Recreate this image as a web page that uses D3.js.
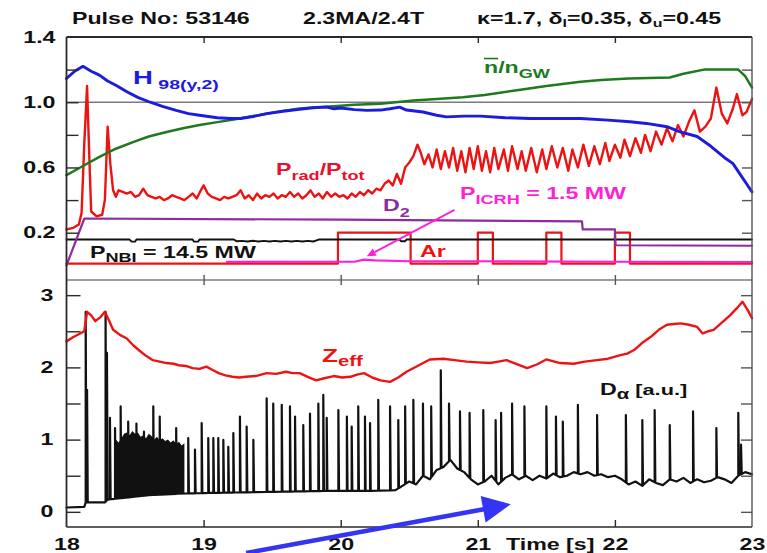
<!DOCTYPE html>
<html><head><meta charset="utf-8">
<script src="https://cdn.jsdelivr.net/npm/d3@7"></script>
<style>
html,body{margin:0;padding:0;background:#fff;}
svg{display:block;font-family:"Liberation Sans",Arial,Helvetica,sans-serif;font-weight:bold;}
</style></head><body>
<svg id="chart" width="767" height="553"></svg>
<script>
// ---------- axis ticks ----------
const timeTicks = [18, 19, 20, 21, 22, 23];
const timeInnerTicks = [19, 20, 21, 22];
const topLabelTicks = [0.2, 0.6, 1.0, 1.4];
const topMinorTicks = [0.2, 0.4, 0.6, 0.8, 1.0, 1.2];
const botLabelTicks = [0, 1, 2, 3];
const botMinorTicks = [0, 0.5, 1, 1.5, 2, 2.5, 3];

// ---------- upper panel signals ----------
const h98T = [18.0,18.06,18.12,18.18,18.24,18.3,18.37,18.44,18.52,18.61,18.7,18.8,18.89,18.97,19.1,19.2,19.27,19.36,19.46,19.58,19.7,19.8,19.9,19.95,20.0,20.1,20.19,20.29,20.36,20.43,20.48,20.6,20.7,20.77,20.9,21.02,21.2,21.38,21.55,21.75,21.95,22.11,22.23,22.38,22.47,22.6,22.7,22.8,22.86,22.92,22.96,23.0];
const h98V = [1.146,1.19,1.22,1.19,1.166,1.13,1.1,1.064,1.03,1.0,0.975,0.95,0.93,0.92,0.905,0.9,0.9,0.912,0.93,0.945,0.956,0.966,0.97,0.96,0.965,0.955,0.95,0.952,0.96,0.97,0.952,0.94,0.92,0.91,0.915,0.915,0.905,0.9,0.9,0.9,0.89,0.88,0.87,0.85,0.82,0.79,0.73,0.66,0.625,0.55,0.5,0.45];

const nGwT = [18.0,18.1,18.24,18.36,18.49,18.6,18.73,18.85,18.97,19.1,19.22,19.34,19.46,19.58,19.7,19.82,19.95,20.1,20.29,20.53,20.7,20.89,21.05,21.26,21.5,21.75,21.9,22.1,22.4,22.5,22.65,22.9,22.95,23.0];
const nGwV = [0.553,0.6,0.665,0.715,0.757,0.79,0.818,0.84,0.86,0.878,0.894,0.912,0.93,0.947,0.962,0.97,0.976,0.984,0.99,1.01,1.02,1.03,1.045,1.07,1.1,1.125,1.136,1.146,1.152,1.175,1.2,1.2,1.16,1.09];

const pradT = [18.0,18.05,18.09,18.11,18.13,18.15,18.165,18.18,18.22,18.26,18.28,18.3,18.32,18.34,18.36,18.38,18.41,18.44,18.47,18.5,18.53,18.56,18.59,18.62,18.65,18.68,18.71,18.74,18.77,18.8,18.83,18.86,18.89,18.92,18.95,18.98,19.0,19.03,19.06,19.09,19.12,19.15,19.18,19.21,19.24,19.27,19.3,19.33,19.36,19.39,19.42,19.45,19.48,19.51,19.54,19.57,19.6,19.63,19.66,19.69,19.72,19.75,19.78,19.81,19.84,19.87,19.9,19.93,19.96,19.99,20.02,20.05,20.08,20.11,20.14,20.17,20.2,20.23,20.26,20.29,20.32,20.35,20.38,20.41,20.44,20.47,20.5,20.53,20.56,20.58,20.61,20.64,20.67,20.7,20.73,20.76,20.79,20.82,20.85,20.88,20.91,20.94,20.97,21.0,21.03,21.06,21.09,21.12,21.15,21.19,21.22,21.25,21.29,21.32,21.35,21.39,21.43,21.47,21.5,21.54,21.58,21.62,21.66,21.69,21.73,21.77,21.81,21.85,21.89,21.93,21.96,22.0,22.04,22.07,22.11,22.15,22.19,22.22,22.26,22.3,22.34,22.38,22.42,22.46,22.5,22.54,22.58,22.62,22.66,22.7,22.74,22.78,22.82,22.86,22.89,22.93,22.96,23.0];
const pradV = [0.22,0.23,0.25,0.32,0.75,1.1,0.7,0.33,0.3,0.31,0.4,0.85,0.62,0.46,0.42,0.46,0.45,0.44,0.45,0.42,0.43,0.47,0.43,0.42,0.41,0.42,0.4,0.41,0.43,0.42,0.41,0.4,0.42,0.44,0.41,0.46,0.49,0.44,0.42,0.41,0.4,0.42,0.41,0.42,0.43,0.46,0.41,0.43,0.4,0.44,0.41,0.43,0.42,0.44,0.41,0.43,0.42,0.45,0.42,0.44,0.41,0.43,0.46,0.42,0.44,0.41,0.45,0.42,0.44,0.42,0.43,0.41,0.44,0.42,0.45,0.43,0.46,0.44,0.47,0.46,0.5,0.52,0.49,0.56,0.5,0.6,0.63,0.67,0.74,0.7,0.62,0.68,0.6,0.71,0.59,0.7,0.6,0.72,0.58,0.7,0.57,0.72,0.59,0.73,0.58,0.7,0.57,0.72,0.59,0.71,0.58,0.73,0.59,0.7,0.58,0.72,0.57,0.71,0.59,0.73,0.6,0.72,0.58,0.71,0.6,0.74,0.61,0.73,0.62,0.75,0.64,0.74,0.66,0.77,0.67,0.78,0.69,0.8,0.7,0.82,0.74,0.84,0.76,0.86,0.79,0.88,0.95,0.82,0.85,0.9,1.09,0.93,0.87,0.96,1.05,0.92,0.94,1.02];

// neutral beam power (normalised trace)
const nbiT = [18.0,18.46,18.475,18.5,18.51,18.92,18.93,18.96,18.97,19.22,19.24,19.28,19.32,19.36,19.4,19.44,19.48,19.52,19.56,19.6,19.64,19.68,19.72,19.76,19.8,19.84,20.43,20.44,20.47,20.48,23.0];
const nbiV = [0.158,0.158,0.145,0.145,0.158,0.158,0.145,0.145,0.158,0.158,0.148,0.15,0.146,0.151,0.146,0.15,0.146,0.15,0.146,0.15,0.146,0.15,0.146,0.15,0.146,0.158,0.158,0.148,0.148,0.158,0.158];

// deuterium fuelling
const d2T = [18.0,18.13,20.0,21.76,21.765,22.0,22.005,23.0];
const d2V = [0.0,0.287,0.28,0.27,0.22,0.22,0.123,0.12];

// ICRH power
const icrhT = [19.17,19.5,20.1,20.17,20.25,20.5,21.0,22.0,23.0];
const icrhV = [0.021,0.021,0.022,0.035,0.03,0.025,0.025,0.022,0.02];

// argon puffs
const arBase = 0.011;
const arLevel = 0.2;
const arStart = [19.98, 21.0, 21.5, 22.0];
const arEnd = [20.51, 21.11, 21.61, 22.11];

// ---------- lower panel signals ----------
const zeffT = [18.0,18.05,18.1,18.13,18.15,18.18,18.21,18.25,18.28,18.31,18.34,18.39,18.44,18.49,18.54,18.58,18.63,18.68,18.73,18.78,18.82,18.87,18.92,18.97,19.02,19.07,19.11,19.16,19.21,19.26,19.31,19.38,19.46,19.53,19.6,19.65,19.7,19.76,19.82,19.88,19.95,20.01,20.07,20.12,20.17,20.23,20.29,20.36,20.42,20.48,20.56,20.65,20.75,20.83,20.92,21.0,21.09,21.15,21.21,21.28,21.36,21.43,21.5,21.6,21.7,21.78,21.87,21.95,22.04,22.09,22.14,22.2,22.26,22.32,22.38,22.43,22.48,22.54,22.6,22.64,22.68,22.72,22.78,22.84,22.89,22.93,22.97,23.0];
const zeffV = [2.36,2.42,2.47,2.5,2.77,2.72,2.64,2.7,2.77,2.65,2.52,2.45,2.4,2.3,2.22,2.16,2.1,2.08,2.06,2.05,2.03,2.02,1.99,1.98,2.01,1.96,1.92,1.89,1.87,1.86,1.87,1.88,1.92,1.91,1.94,1.92,1.92,1.87,1.82,1.85,1.88,1.86,1.87,1.9,1.92,1.86,1.82,1.8,1.86,1.94,2.02,2.11,2.12,2.1,2.08,2.07,2.06,2.08,2.1,2.05,1.99,2.04,2.11,2.06,2.05,2.08,2.1,2.12,2.17,2.19,2.24,2.34,2.42,2.52,2.59,2.6,2.61,2.59,2.56,2.47,2.5,2.52,2.62,2.72,2.82,2.91,2.79,2.68];

// D-alpha background level between ELMs
const daBaseT = [18.0,18.13,18.14,18.28,18.3,18.35,18.45,18.6,18.8,19.0,19.3,19.6,19.9,20.2,20.4,20.45,20.5,20.55,20.6,20.65,20.7,20.75,20.8,20.85,20.9,20.95,21.0,21.05,21.1,21.15,21.2,21.25,21.3,21.35,21.4,21.45,21.5,21.55,21.6,21.65,21.7,21.75,21.8,21.85,21.9,21.95,22.0,22.05,22.1,22.15,22.2,22.25,22.3,22.35,22.4,22.45,22.5,22.55,22.6,22.65,22.7,22.75,22.8,22.85,22.9,22.95,23.0];
const daBaseV = [0.06,0.07,0.13,0.13,0.17,0.18,0.2,0.23,0.25,0.26,0.27,0.28,0.29,0.29,0.3,0.36,0.42,0.38,0.5,0.45,0.58,0.62,0.72,0.6,0.55,0.45,0.38,0.42,0.5,0.38,0.47,0.52,0.45,0.5,0.44,0.5,0.46,0.53,0.48,0.5,0.55,0.52,0.55,0.5,0.52,0.48,0.5,0.45,0.38,0.42,0.36,0.45,0.4,0.37,0.45,0.42,0.47,0.4,0.45,0.41,0.43,0.48,0.45,0.4,0.5,0.55,0.52];

// rapid ELM burst: upper envelope
const daBurstT = [18.36,18.38,18.4,18.42,18.44,18.46,18.48,18.5,18.52,18.54,18.56,18.58,18.6,18.62,18.64,18.66,18.68,18.7,18.72,18.74,18.76,18.78,18.8,18.82,18.84,18.86];
const daBurstV = [1.0,0.96,1.02,1.08,1.1,1.06,1.12,1.08,1.1,1.04,1.06,1.02,1.08,1.05,1.0,1.04,0.99,1.02,0.98,1.0,0.96,0.99,0.94,0.97,0.92,0.95];

// individual ELM peaks
const elmT = [18.14,18.15,18.285,18.295,18.317,18.354,18.395,18.45,18.51,18.565,18.633,18.68,18.8,18.888,18.937,18.986,19.034,19.071,19.107,19.144,19.18,19.217,19.265,19.314,19.363,19.46,19.508,19.57,19.63,19.667,19.727,19.776,19.837,19.873,19.898,19.983,20.045,20.08,20.128,20.177,20.214,20.274,20.36,20.42,20.47,20.53,20.6,20.66,20.73,20.79,20.87,20.94,21.04,21.13,21.17,21.25,21.34,21.5,21.57,21.62,21.73,21.87,22.08,22.2,22.29,22.4,22.57,22.74,22.9,22.92];
const elmV = [2.77,1.69,2.77,2.2,1.3,1.16,1.46,1.25,1.22,1.11,1.46,1.32,1.16,1.02,0.86,1.23,1.02,1.02,1.02,0.995,0.9,1.09,1.32,1.18,0.995,1.57,1.5,1.48,1.46,1.32,1.2,1.36,1.5,1.62,1.3,1.41,1.32,1.18,1.46,1.32,1.23,1.55,1.46,1.27,1.46,1.55,1.5,1.46,1.96,1.5,1.39,1.37,1.41,1.27,1.37,1.5,1.46,1.46,1.32,1.25,1.48,1.34,1.34,1.27,1.41,1.2,1.39,1.16,1.37,0.93];

// annotation arrows (data coordinates)
const icrhArrow = {from: [20.83, 0.34], to: [20.19, 0.055]};
const bigArrow = {from: [19.31, -0.57], to: [21.24, 0.105]};

// ---------- colours ----------
const C = {
  blue: "#1c1ce0", green: "#1d7a1d", red: "#ec1313", magenta: "#ff1fd6",
  purple: "#8d2c9f", black: "#111", frame: "#2a2a2a", grid: "#7a7a7a",
  arrow: "#3434f2", labelRed: "#e8102e"
};
const SX = 1.45; // horizontal text stretch

// ---------- layout ----------
const svg = d3.select("#chart");
const L = 66.5, R = 752;
const topY0 = 37, midY = 280, botY1 = 527;

const x = d3.scaleLinear().domain([18, 23]).range([L, R]);
const yTop = d3.scaleLinear().domain([-0.09, 1.4]).range([midY, topY0]);
const yBot = d3.scaleLinear().domain([-0.21, 3.21]).range([botY1, midY]);

const zip = (a, b) => a.map((t, i) => [t, b[i]]);
const lineTop = d3.line().x(d => x(d[0])).y(d => yTop(d[1]));
const lineBot = d3.line().x(d => x(d[0])).y(d => yBot(d[1]));

function drawLine(gen, data, color, w) {
  svg.append("path").attr("d", gen(data)).attr("fill", "none")
    .attr("stroke", color).attr("stroke-width", w)
    .attr("stroke-linejoin", "round").attr("stroke-linecap", "round");
}

// ---------- upper panel ----------
// reference level 1.0
svg.append("line").attr("x1", L).attr("x2", R)
  .attr("y1", yTop(1.0)).attr("y2", yTop(1.0))
  .attr("stroke", C.grid).attr("stroke-width", 1.3);

// argon puff steps
const arPts = [[18, arBase]];
arStart.forEach((s, i) => {
  arPts.push([s, arBase], [s, arLevel], [arEnd[i], arLevel], [arEnd[i], arBase]);
});
arPts.push([23, arBase]);
drawLine(lineTop, arPts, C.red, 2.2);

drawLine(lineTop, zip(icrhT, icrhV), C.magenta, 2.2);
drawLine(lineTop, zip(nbiT, nbiV), C.black, 1.9);
drawLine(lineTop, zip(d2T, d2V), C.purple, 2.2);
drawLine(lineTop, zip(pradT, pradV), C.red, 2.4);
drawLine(lineTop, zip(nGwT, nGwV), C.green, 2.5);
drawLine(lineTop, zip(h98T, h98V), C.blue, 2.9);

// ICRH pointer
{
  const x1 = x(icrhArrow.from[0]), y1 = yTop(icrhArrow.from[1]);
  const x2 = x(icrhArrow.to[0]), y2 = yTop(icrhArrow.to[1]);
  const a = Math.atan2(y2 - y1, x2 - x1), hl = 9, hw = 4;
  const bx = x2 - hl * Math.cos(a), by = y2 - hl * Math.sin(a);
  svg.append("line").attr("x1", x1).attr("y1", y1).attr("x2", bx).attr("y2", by)
    .attr("stroke", C.magenta).attr("stroke-width", 1.8);
  svg.append("polygon").attr("fill", C.magenta).attr("points", [
    [x2, y2], [bx + hw * Math.sin(a), by - hw * Math.cos(a)], [bx - hw * Math.sin(a), by + hw * Math.cos(a)]
  ].map(p => p.join(",")).join(" "));
}

// ---------- lower panel ----------
const daBase = d3.scaleLinear().domain(daBaseT).range(daBaseV);
// burst region filled between background and envelope
svg.append("path")
  .attr("d", d3.area().x(d => x(d[0])).y0(d => yBot(daBase(d[0]))).y1(d => yBot(d[1]))(zip(daBurstT, daBurstV)))
  .attr("fill", C.black);

// D-alpha trace: background with ELM spikes
const daPts = [];
const allT = Array.from(new Set(daBaseT.concat(elmT))).sort((a, b) => a - b);
allT.forEach(t => {
  const k = elmT.indexOf(t);
  if (k >= 0) {
    daPts.push([t, daBase(t)], [t, elmV[k]], [t + 0.005, daBase(t + 0.005)]);
  } else {
    daPts.push([t, daBase(t)]);
  }
});
drawLine(lineBot, daPts, C.black, 2.2);

drawLine(lineBot, zip(zeffT, zeffV), C.red, 2.4);

// ---------- frames ----------
svg.append("line").attr("x1", L).attr("x2", R).attr("y1", topY0).attr("y2", topY0).attr("stroke", C.frame).attr("stroke-width", 1.8);
svg.append("line").attr("x1", L).attr("x2", R).attr("y1", midY).attr("y2", midY).attr("stroke", "#857a74").attr("stroke-width", 1.6);
svg.append("line").attr("x1", L).attr("x2", R).attr("y1", botY1).attr("y2", botY1).attr("stroke", C.frame).attr("stroke-width", 1.6);
svg.append("line").attr("x1", L).attr("x2", L).attr("y1", topY0).attr("y2", botY1).attr("stroke", C.frame).attr("stroke-width", 1.8);
svg.append("line").attr("x1", R).attr("x2", R).attr("y1", topY0).attr("y2", botY1).attr("stroke", "#555").attr("stroke-width", 1.4);

// ---------- axes ----------
function styleAxis(g, color) {
  g.select(".domain").remove();
  g.selectAll(".tick line").attr("stroke", color || C.frame).attr("stroke-width", 1.4);
}
function stretchLabels(g) {
  g.selectAll(".tick text").each(function () {
    const t = d3.select(this);
    const xx = +t.attr("x") || 0;
    t.attr("x", xx / SX).attr("transform", `scale(${SX},1)`);
  });
  g.selectAll(".tick text").attr("fill", "#111").attr("font-size", 16).attr("font-weight", "bold")
    .attr("font-family", '"Liberation Sans",Arial,sans-serif');
}

// upper panel y ticks
svg.append("g").attr("transform", `translate(${L},0)`)
  .call(d3.axisLeft(yTop).tickValues(topMinorTicks).tickSize(-12).tickFormat(""))
  .call(g => styleAxis(g));
svg.append("g").attr("transform", `translate(${R},0)`)
  .call(d3.axisRight(yTop).tickValues(topMinorTicks).tickSize(-10).tickFormat(""))
  .call(g => styleAxis(g, "#555"));
svg.append("g").attr("transform", `translate(${L},0)`)
  .call(d3.axisLeft(yTop).tickValues(topLabelTicks).tickSize(0).tickPadding(11).tickFormat(d3.format(".1f")))
  .call(g => { styleAxis(g); stretchLabels(g); });

// lower panel y ticks
svg.append("g").attr("transform", `translate(${L},0)`)
  .call(d3.axisLeft(yBot).tickValues(botMinorTicks).tickSize(-14).tickFormat(""))
  .call(g => styleAxis(g));
svg.append("g").attr("transform", `translate(${R},0)`)
  .call(d3.axisRight(yBot).tickValues(botMinorTicks).tickSize(-11).tickFormat(""))
  .call(g => styleAxis(g, "#555"));
svg.append("g").attr("transform", `translate(${L},0)`)
  .call(d3.axisLeft(yBot).tickValues(botLabelTicks).tickSize(0).tickPadding(13).tickFormat(d3.format("d")))
  .call(g => { styleAxis(g); stretchLabels(g); });

// time ticks on frame edges
svg.append("g").attr("transform", `translate(0,${topY0})`)
  .call(d3.axisBottom(x).tickValues(timeInnerTicks).tickSize(6).tickFormat(""))
  .call(g => styleAxis(g));
svg.append("g").attr("transform", `translate(0,${midY})`)
  .call(d3.axisBottom(x).tickValues(timeInnerTicks).tickSize(5).tickFormat(""))
  .call(g => styleAxis(g, "#555"));
svg.append("g").attr("transform", `translate(0,${midY})`)
  .call(d3.axisTop(x).tickValues(timeInnerTicks).tickSize(5).tickFormat(""))
  .call(g => styleAxis(g, "#555"));
svg.append("g").attr("transform", `translate(0,${botY1})`)
  .call(d3.axisTop(x).tickValues(timeInnerTicks).tickSize(7).tickFormat(""))
  .call(g => styleAxis(g));
svg.append("g").attr("transform", `translate(0,${botY1})`)
  .call(d3.axisBottom(x).tickValues(timeTicks).tickSize(0).tickPadding(11.5).tickFormat(d3.format("d")))
  .call(g => { styleAxis(g); stretchLabels(g); });

// ---------- text ----------
function label(px, py, parts, color, size) {
  const g = svg.append("g").attr("transform", `translate(${px},${py}) scale(${SX},1)`);
  const t = g.append("text").attr("fill", color).attr("font-size", size || 16);
  let cur = 0;
  parts.forEach(p => {
    const sh = p.sub || 0;
    const ts = t.append("tspan").attr("dy", sh - cur).attr("font-size", p.size || size || 16).text(p.text);
    if (p.over) ts.style("text-decoration", "overline");
    cur = sh;
  });
  return t;
}

label(72, 24, [{text: "Pulse No: 53146"}], "#111");
label(303, 24, [{text: "2.3MA/2.4T"}], "#111");
label(477, 24, [
  {text: "κ=1.7, δ"}, {text: "l", size: 11, sub: 3}, {text: "=0.35, δ"},
  {text: "u", size: 11, sub: 3}, {text: "=0.45"}
], "#111");

label(133, 84, [{text: "H", size: 19}, {text: " 98(y,2)", size: 13.5, sub: 5}], C.blue);
label(484, 73, [{text: "n", over: true}, {text: "/n"}, {text: "GW", size: 12.5, sub: 5}], C.green);
label(276, 175, [{text: "P"}, {text: "rad", size: 12.5, sub: 5}, {text: "/P"}, {text: "tot", size: 12.5, sub: 5}], C.labelRed);
label(460, 199, [{text: "P"}, {text: "ICRH", size: 12.5, sub: 5}, {text: " = 1.5 MW"}], C.magenta);
label(383, 211, [{text: "D"}, {text: "2", size: 12.5, sub: 6}], C.purple);
label(420, 257, [{text: "Ar"}], C.red);
label(90, 258, [{text: "P"}, {text: "NBI", size: 12.5, sub: 4}, {text: "  = 14.5 MW"}], "#111");
label(322, 362, [{text: "Z", size: 18}, {text: "eff", size: 14, sub: 4}], C.red);
label(600, 395, [{text: "D"}, {text: "α", size: 14, sub: 4}, {text: " [a.u.]", size: 15}], "#111");
label(506, 550, [{text: "Time [s]"}], "#111");

// big pointer arrow across the lower frame
{
  const x1 = x(bigArrow.from[0]), y1 = yBot(bigArrow.from[1]);
  const x2 = x(bigArrow.to[0]), y2 = yBot(bigArrow.to[1]);
  const a = Math.atan2(y2 - y1, x2 - x1), hl = 28, hw = 13.5;
  const bx = x2 - hl * Math.cos(a), by = y2 - hl * Math.sin(a);
  svg.append("line").attr("x1", x1).attr("y1", y1).attr("x2", bx + 2 * Math.cos(a)).attr("y2", by + 2 * Math.sin(a))
    .attr("stroke", C.arrow).attr("stroke-width", 4.5);
  svg.append("polygon").attr("fill", C.arrow).attr("points", [
    [x2, y2], [bx + hw * Math.sin(a), by - hw * Math.cos(a)], [bx - hw * Math.sin(a), by + hw * Math.cos(a)]
  ].map(p => p.join(",")).join(" "));
}
</script>
</body></html>
